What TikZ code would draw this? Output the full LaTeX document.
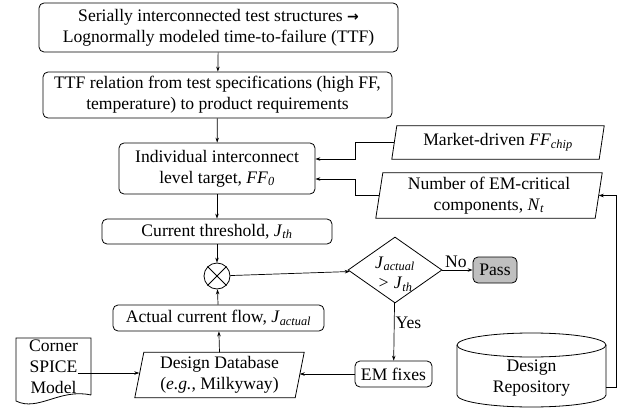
\documentclass[tikz,border=0pt]{standalone}
\usepackage{fontspec}
\setmainfont{Liberation Serif}
\newfontfamily\djv{DejaVu Sans}
\usetikzlibrary{arrows.meta,shapes.geometric,calc}
\tikzset{
  base/.style={font=\fontsize{17.6}{20.8}\selectfont, align=center, inner sep=0pt},
  rbox/.style={base, draw, line width=0.8pt, rounded corners=5pt},
  plain/.style={base},
  conn/.style={line width=0.7pt, -{Stealth[length=5pt,width=3.5pt]}},
  outline/.style={line width=0.8pt},
}
\newcommand{\sub}[2]{\textit{#1}\textsubscript{\textit{#2}}}
\begin{document}
\begin{tikzpicture}[x=1pt,y=-1pt]
\useasboundingbox (0,0) rectangle (626,409);
% boxes
\node[rbox, minimum width=359, minimum height=49] (b1) at (218.5,27.5)
  {Serially interconnected test structures {\djv\bfseries\fontsize{14}{14}\selectfont →}\\Lognormally modeled time-to-failure (TTF)};
\node[rbox, minimum width=349, minimum height=46] (b2) at (217.5,95)
  {TTF relation from test specifications (high FF,\\temperature) to product requirements};
\node[rbox, minimum width=196, minimum height=51] (b3) at (217,168.5)
  {Individual interconnect\\level target, \sub{FF}{0}};
\node[rbox, minimum width=230, minimum height=25] (jth) at (217,231.5)
  {Current threshold, \sub{J}{th}};
\node[draw, circle, line width=0.8pt, minimum size=26, inner sep=0pt] (circ) at (217,276) {};
\draw[line width=0.8pt] (circ.north east) -- (circ.south west) (circ.north west) -- (circ.south east);
\node[rbox, minimum width=211, minimum height=26] (act) at (218.5,318)
  {Actual current flow, \sub{J}{actual}};
% parallelograms
\node[plain, minimum width=212, minimum height=33] (mk) at (498,142.5)
  {Market-driven \sub{FF}{chip}};
\draw[outline] ([xshift=5pt]mk.north west) -- (mk.north east) -- ([xshift=-5pt]mk.south east) -- (mk.south west) -- cycle;
\node[plain, minimum width=226, minimum height=45] (nt) at (489,195.5)
  {Number of EM-critical\\components, \sub{N}{t}};
\draw[outline] ([xshift=7pt]nt.north west) -- (nt.north east) -- ([xshift=-7pt]nt.south east) -- (nt.south west) -- cycle;
\node[plain, minimum width=169, minimum height=45] (db) at (219.5,375)
  {Design Database\\(\textit{e.g.}, Milkyway)};
\draw[outline] ([xshift=9pt]db.north west) -- (db.north east) -- ([xshift=-9pt]db.south east) -- (db.south west) -- cycle;
\coordinate (mkW) at ([xshift=2.5pt]mk.west);
\coordinate (ntW) at ([xshift=3.5pt]nt.west);
\coordinate (ntE) at ([xshift=-3.5pt]nt.east);
\coordinate (dbW) at ([xshift=4.5pt]db.west);
\coordinate (dbE) at ([xshift=-4.5pt]db.east);
% diamond
\node[draw, diamond, line width=0.8pt, minimum width=94, minimum height=66, inner sep=0pt] (dia) at (395,270) {};
\node[base] (diat) at (395,274) {\sub{J}{actual}\\\textit{>} \sub{J}{th}};
\node[rbox, fill=black!25, minimum width=44, minimum height=26] (pass) at (495,270) {Pass};
\node[rbox, minimum width=77, minimum height=26] (em) at (393.5,374) {EM fixes};
% document
\node[plain] (doc) at (53.5,367) {Corner\\SPICE\\Model};
\draw[outline] (91,395) -- (91,338) -- (16,338) -- (16,401)
  .. controls (38,412) and (60,388) .. (91,395);
% cylinder
\node[plain] (cyl) at (531.5,378) {Design\\Repository};
\draw[outline] (531.5,345) ellipse [x radius=74.5, y radius=12];
\draw[outline] (457,345) -- (457,395) arc[start angle=180, end angle=0, x radius=74.5, y radius=12] -- (606,345);
\coordinate (cylE) at (606,387);
% connectors
\draw[conn] (b1) -- (b2);
\draw[conn] (b2) -- (b3);
\draw[conn] (mkW) -- (355,142.5) -- (355,159) -- (b3.east |- 0,159);
\draw[conn] (ntW) -- (355,195.5) -- (355,179) -- (b3.east |- 0,179);
\draw[conn] (b3) -- (jth);
\draw[conn] (jth) -- (circ);
\draw[conn] (act) -- (circ);
\draw[conn] (circ) -- (dia);
\draw[conn] (dia) -- node[base, above=2pt, pos=0.45] {No} (pass);
\draw[conn] (dia) -- node[base, right=1pt, pos=0.35] {Yes} (em);
\draw[conn] (em) -- (dbE |- em.west);
\draw[conn] (doc.east |- 0,373) -- (dbW |- 0,373);
\draw[conn] (db.north) -- (act);
\draw[conn] (cylE) -- (616,387) -- (616,195.5) -- (ntE);
\end{tikzpicture}
\end{document}
